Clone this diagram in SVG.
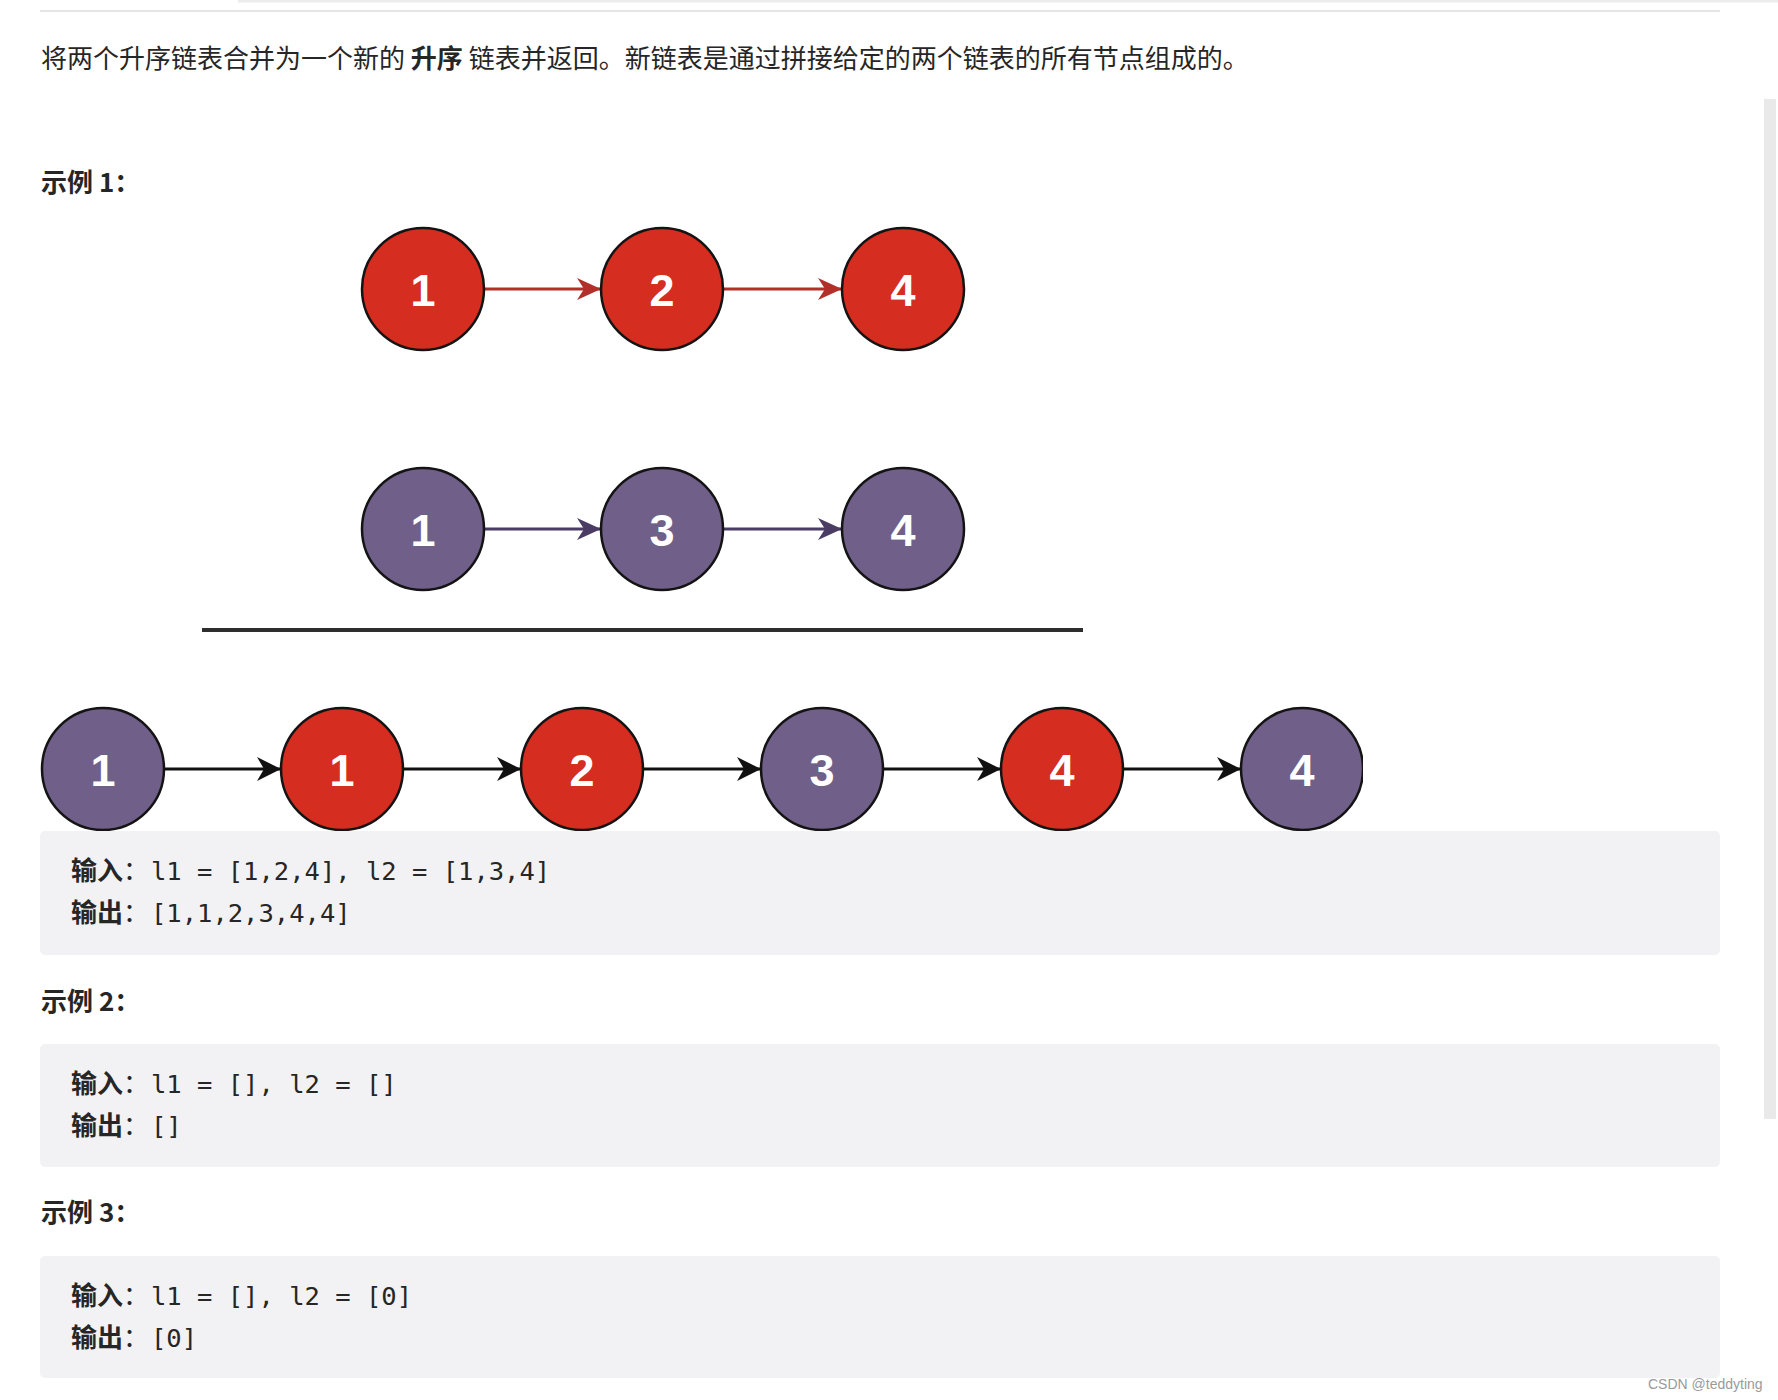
<svg xmlns="http://www.w3.org/2000/svg" width="1778" height="1400" viewBox="0 0 1778 1400">
<style>
.cjk{font-family:"Noto Sans CJK SC","Noto Sans",sans-serif;font-size:26px;fill:#262626}
.b{font-weight:bold}
.mono{font-family:"DejaVu Sans Mono","Liberation Mono",monospace;font-size:25.5px;fill:#262626}
.code{fill:#f2f2f4}
.red circle{fill:#d52d1f;stroke:#141414;stroke-width:2.5}
.pur circle{fill:#705f88;stroke:#141414;stroke-width:2.5}
.node text{font-family:"Liberation Sans",Arial,sans-serif;font-weight:bold;font-size:45px;fill:#fff;text-anchor:middle}
.cr{stroke:#b3302a;stroke-width:2.8;fill:none}
.cp{stroke:#4b3c64;stroke-width:2.8;fill:none}
.ck{stroke:#111;stroke-width:3;fill:none}
</style>
<defs>
<marker id="ar" viewBox="0 0 24 22" refX="24" refY="11" markerWidth="24" markerHeight="22" markerUnits="userSpaceOnUse" orient="auto"><path d="M0,0 L24,11 L0,22 L7,11 Z" fill="#b3302a"/></marker>
<marker id="ap" viewBox="0 0 24 22" refX="24" refY="11" markerWidth="24" markerHeight="22" markerUnits="userSpaceOnUse" orient="auto"><path d="M0,0 L24,11 L0,22 L7,11 Z" fill="#4b3c64"/></marker>
<marker id="ak" viewBox="0 0 24 24" refX="24" refY="12" markerWidth="24" markerHeight="24" markerUnits="userSpaceOnUse" orient="auto"><path d="M0,0 L24,12 L0,24 L7,12 Z" fill="#111"/></marker>
<clipPath id="clipimg"><rect x="0" y="700" width="1363" height="140"/></clipPath>
</defs>
<rect width="1778" height="1400" fill="#fff"/>
<rect x="238" y="0" width="1540" height="2.5" fill="#ececec"/>
<rect x="40" y="10" width="1680" height="2" fill="#e6e6e6"/>
<rect x="1764" y="99" width="12" height="1020" fill="#e9e9e9"/>

<text class="cjk" x="41" y="68">将两个升序链表合并为一个新的 <tspan class="b">升序</tspan> 链表并返回。新链表是通过拼接给定的两个链表的所有节点组成的。</text>
<text class="cjk b" x="41" y="192">示例 1：</text>

<g id="connectors">
<line class="cr" x1="484" y1="289" x2="601" y2="289" marker-end="url(#ar)"/>
<line class="cr" x1="723" y1="289" x2="842" y2="289" marker-end="url(#ar)"/>
<line class="cp" x1="484" y1="529" x2="601" y2="529" marker-end="url(#ap)"/>
<line class="cp" x1="723" y1="529" x2="842" y2="529" marker-end="url(#ap)"/>
<line class="ck" x1="164" y1="769" x2="281" y2="769" marker-end="url(#ak)"/>
<line class="ck" x1="403" y1="769" x2="521" y2="769" marker-end="url(#ak)"/>
<line class="ck" x1="643" y1="769" x2="761" y2="769" marker-end="url(#ak)"/>
<line class="ck" x1="883" y1="769" x2="1001" y2="769" marker-end="url(#ak)"/>
<line class="ck" x1="1123" y1="769" x2="1241" y2="769" marker-end="url(#ak)"/>
</g>

<g id="a1" class="node red"><circle cx="423" cy="289" r="61"/><text x="423" y="306">1</text></g>
<g id="a2" class="node red"><circle cx="662" cy="289" r="61"/><text x="662" y="306">2</text></g>
<g id="a4" class="node red"><circle cx="903" cy="289" r="61"/><text x="903" y="306">4</text></g>

<g id="b1" class="node pur"><circle cx="423" cy="529" r="61"/><text x="423" y="546">1</text></g>
<g id="b3" class="node pur"><circle cx="662" cy="529" r="61"/><text x="662" y="546">3</text></g>
<g id="b4" class="node pur"><circle cx="903" cy="529" r="61"/><text x="903" y="546">4</text></g>

<line x1="202" y1="630" x2="1083" y2="630" stroke="#2e2e2e" stroke-width="4"/>

<g id="m1" class="node pur"><circle cx="103" cy="769" r="61"/><text x="103" y="786">1</text></g>
<g id="m2" class="node red"><circle cx="342" cy="769" r="61"/><text x="342" y="786">1</text></g>
<g id="m3" class="node red"><circle cx="582" cy="769" r="61"/><text x="582" y="786">2</text></g>
<g id="m4" class="node pur"><circle cx="822" cy="769" r="61"/><text x="822" y="786">3</text></g>
<g id="m5" class="node red"><circle cx="1062" cy="769" r="61"/><text x="1062" y="786">4</text></g>
<g id="m6" class="node pur" clip-path="url(#clipimg)"><circle cx="1302" cy="769" r="61"/><text x="1302" y="786">4</text></g>

<rect class="code" x="40" y="831" width="1680" height="124" rx="5"/>
<text class="cjk" x="71" y="880"><tspan class="b">输入</tspan>：</text><text class="mono" x="151" y="880">l1 = [1,2,4], l2 = [1,3,4]</text>
<text class="cjk" x="71" y="922"><tspan class="b">输出</tspan>：</text><text class="mono" x="151" y="922">[1,1,2,3,4,4]</text>

<text class="cjk b" x="41" y="1011">示例 2：</text>
<rect class="code" x="40" y="1044" width="1680" height="123" rx="5"/>
<text class="cjk" x="71" y="1093"><tspan class="b">输入</tspan>：</text><text class="mono" x="151" y="1093">l1 = [], l2 = []</text>
<text class="cjk" x="71" y="1135"><tspan class="b">输出</tspan>：</text><text class="mono" x="151" y="1135">[]</text>

<text class="cjk b" x="41" y="1222">示例 3：</text>
<rect class="code" x="40" y="1256" width="1680" height="122" rx="5"/>
<text class="cjk" x="71" y="1305"><tspan class="b">输入</tspan>：</text><text class="mono" x="151" y="1305">l1 = [], l2 = [0]</text>
<text class="cjk" x="71" y="1347"><tspan class="b">输出</tspan>：</text><text class="mono" x="151" y="1347">[0]</text>

<text x="1648" y="1389" font-family="Liberation Sans, Arial, sans-serif" font-size="14" fill="#9a9a9a">CSDN @teddyting</text>
</svg>
